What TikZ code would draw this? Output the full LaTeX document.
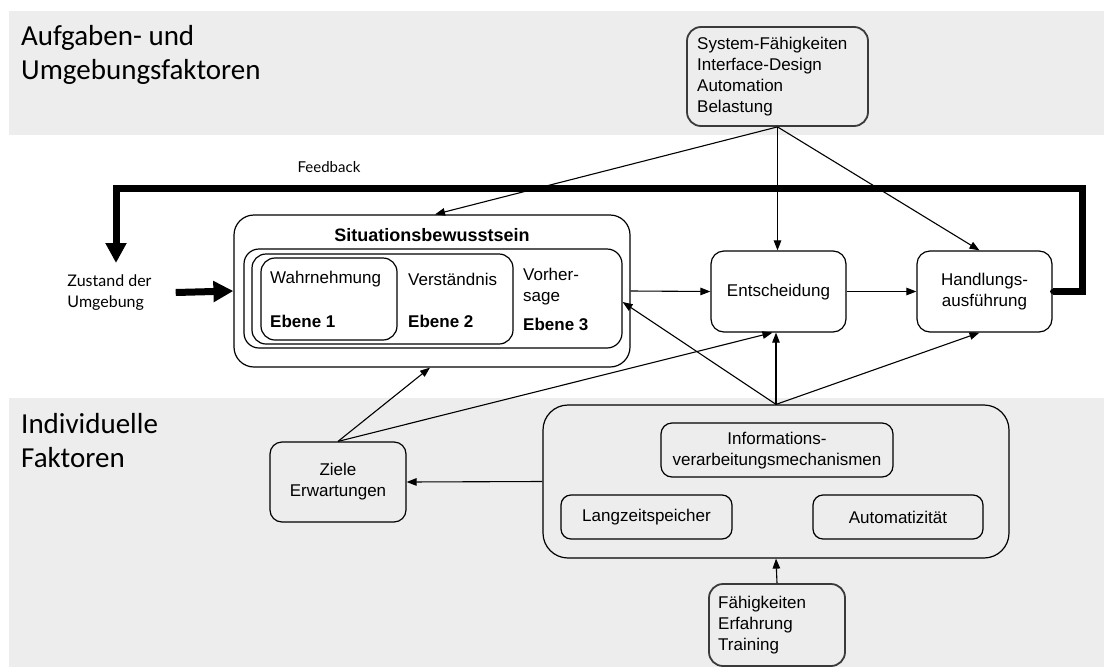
\documentclass[tikz,border=0pt]{standalone}
\usepackage{fontspec}
\setmainfont{Liberation Sans}
\newfontfamily\headfont{Carlito}
\newfontfamily\gillfont{Lato}
\usetikzlibrary{arrows.meta,calc}
\definecolor{band}{HTML}{EDEDED}
\definecolor{dgray}{HTML}{3A3A3A}
\begin{document}
\begin{tikzpicture}[x=1pt,y=-1pt,
  box/.style={draw, rounded corners=#1, line width=1.2pt, inner sep=0pt},
  box/.default=13pt,
  gbox/.style={draw=dgray, rounded corners=14pt, line width=1.8pt, inner sep=0pt},
  txt/.style={font=\fontsize{17}{21}\selectfont, inner sep=0pt, align=left},
  ctxt/.style={font=\fontsize{17}{21}\selectfont, inner sep=0pt, align=center},
  btxt/.style={font=\fontsize{17}{21}\selectfont\bfseries, inner sep=0pt},
  head/.style={font=\headfont\fontsize{29}{34}\selectfont, inner sep=0pt, align=left},
  gill/.style={font=\gillfont\fontsize{15}{21}\selectfont, inner sep=0pt, align=left},
  arr/.style={line width=1.1pt, -{Triangle[length=10pt,width=7.5pt]}},
  fat/.style={line width=7pt, -{Triangle[length=20pt,width=20pt]}}
]
\useasboundingbox (0,0) rectangle (1104,667);
% bands
\fill[band] (9,11) rectangle (1104,135);
\fill[band] (9,398) rectangle (1104,667);

% headings
\node[head, anchor=north west] (h1) at (21,25) {Aufgaben- und\\Umgebungsfaktoren};
\node[head, anchor=north west] (h2) at (21,413) {Individuelle\\Faktoren};

% top factors box
\node[gbox, minimum width=181pt, minimum height=99pt] (top) at (777.5,76.5) {};
\node[txt, anchor=west] (toptxt) at (697,76.5) {System-Fähigkeiten\\Interface-Design\\Automation\\Belastung};

% situation awareness
\node[box=20pt, minimum width=396pt, minimum height=152pt] (sa) at (432,291) {};
\node[box=15pt, minimum width=378pt, minimum height=99pt] (l3) at (433,298.5) {};
\node[box=14pt, minimum width=261pt, minimum height=90pt] (l2) at (382.5,299) {};
\node[box=14pt, minimum width=136pt, minimum height=82pt] (l1) at (329,299) {};
\node[btxt, font=\fontsize{18}{21}\selectfont\bfseries] (satitle) at (432,235) {Situationsbewusstsein};
\node[txt, anchor=west] (wahr) at (270,279) {Wahrnehmung};
\node[btxt, anchor=west] (e1) at (270,321) {Ebene 1};
\node[txt, anchor=west] (vers) at (408,279) {Verständnis};
\node[btxt, anchor=west] (e2) at (408,321) {Ebene 2};
\node[txt, anchor=west] (vorh) at (523,287) {Vorher-\\sage};
\node[btxt, anchor=west] (e3) at (523,324) {Ebene 3};

% decision and action
\node[box, minimum width=135pt, minimum height=81pt] (ent) at (778.5,291.5) {};
\node[ctxt] (enttxt) at (778.5,292) {Entscheidung};
\node[box, minimum width=135pt, minimum height=81pt] (hand) at (984.5,291.5) {};
\node[ctxt] (handtxt) at (984.5,292) {Handlungs-\\ausführung};

% environment state
\node[gill, font=\gillfont\fontsize{16}{21}\selectfont] (zust) at (109.5,292.5) {Zustand der\\Umgebung};
\node[gill] (fbtxt) at (329,167) {Feedback};

% individual factors
\node[box=12pt, minimum width=136pt, minimum height=80pt] (ziele) at (338,482) {};
\node[ctxt] (zieletxt) at (338,482) {Ziele\\Erwartungen};
\node[box=25pt, minimum width=466pt, minimum height=153pt] (big) at (776,481.5) {};
\node[box=11pt, minimum width=232pt, minimum height=54pt] (info) at (777,450) {};
\node[ctxt] (infotxt) at (777,451) {Informations-\\verarbeitungsmechanismen};
\node[box=10pt, minimum width=171pt, minimum height=44pt] (lang) at (646.5,517) {};
\node[ctxt] (langtxt) at (646.5,517) {Langzeitspeicher};
\node[box=10pt, minimum width=170pt, minimum height=44pt] (auto) at (898,517) {};
\node[ctxt] (autotxt) at (898,517) {Automatizität};
\node[gbox, minimum width=136pt, minimum height=82pt] (cap) at (777,625) {};
\node[txt, anchor=west] (captxt) at (718,625) {Fähigkeiten\\Erfahrung\\Training};

% connectors from top box
\draw[arr] (top.south) -- ($(sa.north)+(3,0)$);
\draw[arr] (top.south) -- (top.south |- ent.north);
\draw[arr] (top.south) -- ($(hand.north)+(-5,0)$);

% main flow
\draw[arr] (sa.east) -- (ent.west);
\draw[arr] (ent.east) -- (hand.west);

% feedback loop
\coordinate (fbR) at (1082,188);
\coordinate (fbL) at (116,188);
\coordinate (fbEnd) at (116,263);
\fill (hand.east) circle (2.5pt);
\draw[fat, line join=miter] (hand.east) -| (fbR) -- (fbL) -- (fbEnd);
\draw[fat] ([xshift=24pt]zust.east) -- (sa.west);

% connectors from individual factors
\draw[arr] (big.north) -- ($(l3.east)+(0,3.5)$);
\draw[arr] (big.north) -- (big.north |- ent.south);
\draw[arr] (big.north) -- ($(hand.south)+(-5,0)$);
\draw[arr] (ziele.north) -- ($(sa.south)+(-2,0)$);
\draw[arr] (ziele.north) -- ($(ent.south)+(-6,0)$);
\draw[arr] (big.west) -- (ziele.east);
\draw[arr] (cap.north) -- (big.south);
\end{tikzpicture}
\end{document}
